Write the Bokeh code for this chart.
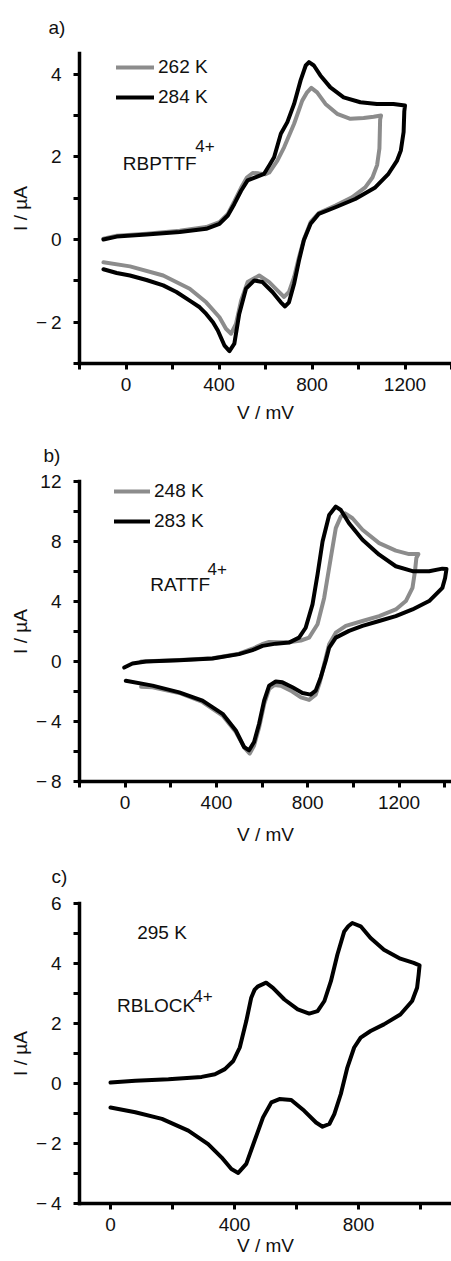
from bokeh.plotting import figure
from bokeh.layouts import column
from bokeh.models import Label, FixedTicker, Legend, LegendItem, Range1d, Title
from bokeh.embed import file_html
from bokeh.resources import INLINE

FONT = "Liberation Sans"
INK = "#111111"
GRAY = "#8c8c8c"

# ---------------- data: panel a (RBPTTF4+) ----------------
a_v_262 = [-97, -40, 88, 231, 345, 402, 438, 466, 495, 520, 545, 570, 600, 616, 651, 680, 723, 758, 779, 797,
           822, 858, 908, 965, 1022, 1065, 1097,
           1093, 1090, 1080, 1060, 1029, 972, 901, 829, 794, 765, 744, 723, 701, 680, 651, 616, 573, 523, 495,
           473, 452, 430, 402, 345, 274, 160, 17, -97]
a_i_262 = [0.02, 0.09, 0.14, 0.21, 0.30, 0.42, 0.62, 0.92, 1.25, 1.50, 1.61, 1.60, 1.58, 1.62, 1.91, 2.23, 2.80,
           3.36, 3.56, 3.67, 3.56, 3.28, 3.04, 2.92, 2.94, 2.97, 3.00,
           2.90, 2.20, 1.80, 1.50, 1.26, 1.02, 0.82, 0.64, 0.42, 0.00, -0.43, -0.91, -1.27, -1.39, -1.23, -1.03,
           -0.87, -1.03, -1.48, -2.04, -2.28, -2.16, -1.88, -1.52, -1.19, -0.87, -0.65, -0.55]
a_v_284 = [-97, -40, 88, 231, 345, 402, 438, 466, 495, 523, 559, 594, 616, 637, 666, 694, 723, 751, 773, 787,
           808, 836, 879, 936, 1008, 1079, 1150, 1200,
           1197, 1194, 1182, 1165, 1129, 1072, 986, 901, 829, 794, 765, 744, 723, 701, 684, 666, 630, 587, 552,
           516, 487, 466, 445, 423, 395, 374, 345, 317, 274, 217, 160, 88, 17, -40, -97]
a_i_284 = [0.00, 0.07, 0.12, 0.18, 0.26, 0.38, 0.58, 0.86, 1.18, 1.43, 1.51, 1.59, 1.79, 1.99, 2.56, 2.84, 3.28,
           3.85, 4.21, 4.29, 4.21, 3.97, 3.68, 3.44, 3.32, 3.28, 3.28, 3.24,
           3.10, 2.60, 2.15, 1.90, 1.59, 1.26, 0.98, 0.78, 0.62, 0.38, -0.02, -0.51, -1.07, -1.52, -1.62, -1.52,
           -1.27, -1.03, -0.99, -1.19, -1.80, -2.52, -2.70, -2.56, -2.20, -2.00, -1.80, -1.64, -1.48, -1.27,
           -1.11, -0.98, -0.87, -0.81, -0.72]

# ---------------- data: panel b (RATTF4+) ----------------
b_v_248 = [70, 237, 383, 499, 558, 600, 631, 670, 718, 770, 806, 843, 872, 901, 923, 945, 964, 996, 1040, 1113,
           1186, 1244, 1285,
           1276, 1270, 1259, 1230, 1186, 1113, 1040, 967, 923, 894, 872, 853, 835, 806, 770, 726, 682, 653, 631,
           609, 587, 565, 546, 525, 485, 427, 339, 237, 120, 70]
b_i_248 = [0.00, 0.10, 0.22, 0.52, 0.85, 1.15, 1.30, 1.28, 1.28, 1.40, 1.59, 2.48, 4.24, 6.90, 8.89, 9.66, 9.88,
           9.55, 8.78, 7.89, 7.39, 7.16, 7.16,
           6.90, 6.02, 4.91, 4.03, 3.47, 3.03, 2.70, 2.37, 1.92, 1.15, -0.18, -1.39, -2.21, -2.56, -2.39, -1.94,
           -1.61, -1.57, -1.83, -2.85, -4.40, -5.60, -6.14, -5.80, -4.70, -3.60, -2.70, -2.10, -1.72, -1.68]
b_v_283 = [-4, 32, 91, 237, 383, 499, 558, 602, 660, 718, 762, 791, 821, 843, 865, 894, 923, 945, 981, 1040,
           1113, 1186, 1259, 1332, 1390, 1408,
           1402, 1390, 1332, 1259, 1186, 1113, 1040, 981, 923, 894, 879, 857, 835, 813, 777, 733, 689, 660, 631,
           609, 587, 565, 543, 521, 485, 427, 339, 237, 120, 3]
b_i_283 = [-0.40, -0.13, 0.00, 0.09, 0.20, 0.49, 0.76, 1.04, 1.19, 1.26, 1.59, 2.25, 3.81, 5.80, 8.00, 9.77,
           10.33, 10.10, 9.22, 8.12, 7.12, 6.35, 6.02, 6.02, 6.19, 6.17,
           5.57, 4.91, 4.03, 3.47, 3.03, 2.70, 2.37, 2.04, 1.59, 0.93, 0.05, -1.06, -1.94, -2.21, -2.10, -1.72,
           -1.39, -1.33, -1.61, -2.61, -4.15, -5.37, -5.92, -5.70, -4.60, -3.49, -2.61, -2.06, -1.61, -1.28]

# ---------------- data: panel c (RBLOCK4+) ----------------
c_v_295 = [0, 80, 187, 294, 337, 369, 396, 417, 438, 454, 465, 476, 502, 524, 561, 604, 641, 668, 690, 711, 732,
           754, 767, 780, 807, 839, 882, 935, 978, 997,
           994, 989, 973, 935, 882, 839, 807, 786, 764, 743, 722, 706, 684, 663, 625, 583, 545, 519, 492, 465,
           438, 412, 390, 358, 315, 251, 166, 80, 0]
c_i_295 = [0.03, 0.09, 0.14, 0.22, 0.31, 0.48, 0.75, 1.20, 2.08, 2.86, 3.13, 3.24, 3.36, 3.19, 2.80, 2.47, 2.33,
           2.41, 2.75, 3.41, 4.30, 5.07, 5.24, 5.35, 5.24, 4.85, 4.46, 4.16, 4.02, 3.94,
           3.63, 3.19, 2.75, 2.30, 1.97, 1.75, 1.53, 1.20, 0.53, -0.35, -1.02, -1.35, -1.44, -1.30, -0.91, -0.55,
           -0.52, -0.63, -1.13, -1.90, -2.68, -2.98, -2.85, -2.46, -2.02, -1.57, -1.18, -0.96, -0.80]

# ticks
a_x_major = [0, 400, 800, 1200]
a_x_minor = [-200, 200, 600, 1000, 1400]
a_y_major = [-2, 0, 2, 4]
a_y_minor = [-3, -1, 1, 3]
b_x_major = [0, 400, 800, 1200]
b_x_minor = [-200, 200, 600, 1000, 1400]
b_y_major = [-8, -4, 0, 4, 8, 12]
b_y_minor = [-6, -2, 2, 6, 10]
c_x_major = [0, 400, 800]
c_x_minor = [200, 600, 1000]
c_y_major = [-4, -2, 0, 2, 4, 6]
c_y_minor = [-3, -1, 1, 3, 5]


def fmt(v):
    return ("\u2212\u2009" + str(abs(v))) if v < 0 else str(v)


def lab(p, x, y, text, size="19px"):
    p.add_layout(Label(x=x, y=y, text=text, text_font=FONT, text_font_size=size,
                       text_color=INK, text_align="left", text_baseline="alphabetic"))


def panel(height, xr, yr, xmaj, xmin, ymaj, ymin, left, top, bottom, letter, letter_off, letter_standoff,
          xlab_standoff, ylab_standoff):
    p = figure(width=451, height=height, x_range=Range1d(*xr), y_range=Range1d(*yr),
               output_backend="svg", toolbar_location=None,
               min_border_left=left, min_border_right=0, min_border_top=top, min_border_bottom=bottom)
    p.grid.visible = False
    p.outline_line_color = None
    p.background_fill_color = "white"
    p.border_fill_color = "white"
    p.xaxis.ticker = FixedTicker(ticks=xmaj, minor_ticks=xmin)
    p.yaxis.ticker = FixedTicker(ticks=ymaj, minor_ticks=ymin)
    p.xaxis.major_label_overrides = {v: fmt(v) for v in xmaj}
    p.yaxis.major_label_overrides = {v: fmt(v) for v in ymaj}
    for ax in (p.xaxis[0], p.yaxis[0]):
        ax.axis_line_width = 3.5
        ax.axis_line_color = "black"
        ax.axis_line_cap = "square"
        ax.major_tick_line_width = 3
        ax.minor_tick_line_width = 3
        ax.major_tick_line_color = "black"
        ax.minor_tick_line_color = "black"
        ax.major_tick_out = 6
        ax.major_tick_in = 0
        ax.minor_tick_out = 6
        ax.minor_tick_in = 0
        ax.major_label_text_font = FONT
        ax.major_label_text_font_size = "19px"
        ax.major_label_text_color = INK
        ax.axis_label_text_font = FONT
        ax.axis_label_text_font_size = "19px"
        ax.axis_label_text_font_style = "normal"
        ax.axis_label_text_color = INK
    p.xaxis.major_label_standoff = 8
    p.yaxis.major_label_standoff = 12
    p.xaxis.axis_label = "V / mV"
    p.yaxis.axis_label = "I / \u00b5A"
    p.xaxis.axis_label_standoff = xlab_standoff
    p.yaxis.axis_label_standoff = ylab_standoff
    p.add_layout(Title(text=letter, align="left", offset=letter_off, standoff=letter_standoff,
                       vertical_align="middle", text_font=FONT, text_font_size="19px",
                       text_font_style="normal", text_color=INK), "above")
    return p


def add_legend(p, items, loc, gw):
    lg = Legend(items=[LegendItem(label=t, renderers=[r]) for t, r in items], location=loc,
                orientation="vertical", glyph_width=gw, glyph_height=30, label_height=30,
                label_standoff=4, padding=0, spacing=0, margin=0, border_line_color=None,
                background_fill_alpha=0, label_text_font=FONT, label_text_font_size="19px",
                label_text_color=INK)
    p.add_layout(lg)


LW = 4

# ---- panel a ----
pa = panel(428, (-200, 1400), (-3, 4.5), a_x_major, a_x_minor, a_y_major, a_y_minor,
           78, 52, 65, "a)", -31, 30, 8, 2)
ra1 = pa.line(a_v_262, a_i_262, line_width=LW, color=GRAY, line_join="round", line_cap="round")
ra2 = pa.line(a_v_284, a_i_284, line_width=LW, color="black", line_join="round", line_cap="round")
add_legend(pa, [("262 K", ra1), ("284 K", ra2)], (37, 251), 38)
lab(pa, -14, 1.84, "RBPTTF")
lab(pa, 298, 2.27, "4+", size="17px")

# ---- panel b ----
pb = panel(420, (-200, 1430), (-8, 12), b_x_major, b_x_minor, b_y_major, b_y_minor,
           79, 52, 67, "b)", -36, 30, 12, 2)
rb1 = pb.line(b_v_248, b_i_248, line_width=LW, color=GRAY, line_join="round", line_cap="round")
rb2 = pb.line(b_v_283, b_i_283, line_width=LW, color="black", line_join="round", line_cap="round")
add_legend(pb, [("248 K", rb1), ("283 K", rb2)], (35, 245), 36)
lab(pb, 110, 5.13, "RATTF")
lab(pb, 361, 6.15, "4+", size="17px")

# ---- panel c ----
pc = panel(413, (-100, 1100), (-4, 6), c_x_major, c_x_minor, c_y_major, c_y_minor,
           78, 54, 58, "c)", -28, 32, 1, 2)
pc.line(c_v_295, c_i_295, line_width=LW, color="black", line_join="round", line_cap="round")
lab(pc, 86, 5.03, "295 K")
lab(pc, 21, 2.59, "RBLOCK")
lab(pc, 267, 2.92, "4+", size="17px")

layout = column(pa, pb, pc, spacing=0)
open("out.html", "w").write(file_html(layout, INLINE))
